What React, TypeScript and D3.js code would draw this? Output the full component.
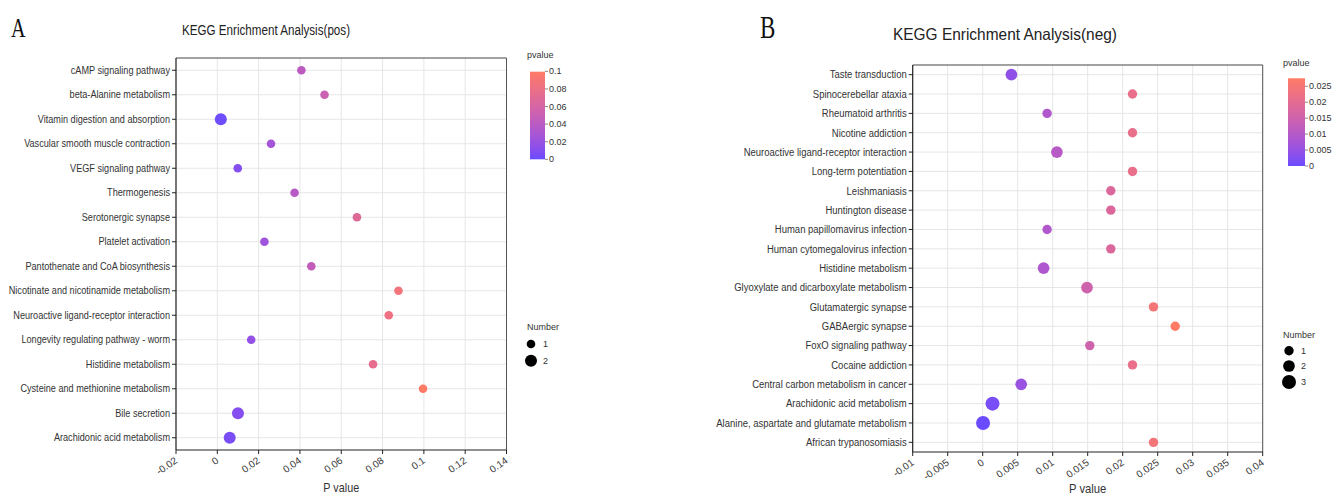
import React from 'react';
import * as d3 from 'd3';

// ---- data: positive ion mode ----
const posPathways = [
  'cAMP signaling pathway',
  'beta-Alanine metabolism',
  'Vitamin digestion and absorption',
  'Vascular smooth muscle contraction',
  'VEGF signaling pathway',
  'Thermogenesis',
  'Serotonergic synapse',
  'Platelet activation',
  'Pantothenate and CoA biosynthesis',
  'Nicotinate and nicotinamide metabolism',
  'Neuroactive ligand-receptor interaction',
  'Longevity regulating pathway - worm',
  'Histidine metabolism',
  'Cysteine and methionine metabolism',
  'Bile secretion',
  'Arachidonic acid metabolism',
];
const posPvalues = [0.0407, 0.0519, 0.0017, 0.026, 0.0099, 0.0374, 0.0676, 0.0228, 0.0455, 0.0877, 0.083, 0.0164, 0.0754, 0.0996, 0.01, 0.006];
const posNumbers = [1, 1, 2, 1, 1, 1, 1, 1, 1, 1, 1, 1, 1, 1, 2, 2];
const posXTicks = [-0.02, 0, 0.02, 0.04, 0.06, 0.08, 0.1, 0.12, 0.14];
const posLegendTicks = [0, 0.02, 0.04, 0.06, 0.08, 0.1];
const posSizeLevels = [1, 2];

// ---- data: negative ion mode ----
const negPathways = [
  'Taste transduction',
  'Spinocerebellar ataxia',
  'Rheumatoid arthritis',
  'Nicotine addiction',
  'Neuroactive ligand-receptor interaction',
  'Long-term potentiation',
  'Leishmaniasis',
  'Huntington disease',
  'Human papillomavirus infection',
  'Human cytomegalovirus infection',
  'Histidine metabolism',
  'Glyoxylate and dicarboxylate metabolism',
  'Glutamatergic synapse',
  'GABAergic synapse',
  'FoxO signaling pathway',
  'Cocaine addiction',
  'Central carbon metabolism in cancer',
  'Arachidonic acid metabolism',
  'Alanine, aspartate and glutamate metabolism',
  'African trypanosomiasis',
];
const negPvalues = [0.0041, 0.0214, 0.0092, 0.0214, 0.0106, 0.0214, 0.0183, 0.0183, 0.0092, 0.0183, 0.0087, 0.0149, 0.0244, 0.0275, 0.0153, 0.0214, 0.0055, 0.0014, 0.00005, 0.0244];
const negNumbers = [2, 1, 1, 1, 2, 1, 1, 1, 1, 1, 2, 2, 1, 1, 1, 1, 2, 3, 3, 1];
const negXTicks = [-0.01, -0.005, 0, 0.005, 0.01, 0.015, 0.02, 0.025, 0.03, 0.035, 0.04];
const negLegendTicks = [0, 0.005, 0.01, 0.015, 0.02, 0.025];
const negSizeLevels = [1, 2, 3];

const LOW = '#6A4BFF';
const HIGH = '#FF7B66';
const FONT = '"Liberation Sans", Arial, sans-serif';
const TXT = '#333';

const fmt = (v: number) => `${+v.toFixed(4)}`;

type Layout = {
  id: string;
  letter: string; letterX: number; letterY: number; letterSize: number;
  title: string; titleX: number; titleY: number; titleSize: number; titleLen: number;
  left: number; right: number; top: number; bottom: number; labelSize: number; labelScale: number;
  xLabelY: number; xLabelSize: number;
  legX: number; legTitleY: number; barX: number; barW: number; barTop: number; barBottom: number;
  numTitleY: number; numY: number[]; rRange: [number, number];
};

function BubblePanel({ pathways, pvalues, numbers, xTicks, legendTicks, sizeLevels, L }: {
  pathways: string[]; pvalues: number[]; numbers: number[]; xTicks: number[];
  legendTicks: number[]; sizeLevels: number[]; L: Layout;
}) {
  const x = d3.scaleLinear().domain([xTicks[0], xTicks[xTicks.length - 1]]).range([L.left, L.right]);
  const y = d3.scaleBand<string>().domain(pathways).range([L.top, L.bottom]);
  const cy = (p: string) => (y(p) as number) + y.bandwidth() / 2;
  const pMax = d3.max(pvalues) as number;
  const color = d3.scaleLinear<string>().domain([0, pMax]).range([LOW, HIGH]).interpolate(d3.interpolateLab);
  const r = d3.scaleLinear().domain([1, sizeLevels[sizeLevels.length - 1]]).range(L.rRange);
  const bar = d3.scaleLinear().domain([0, pMax]).range([L.barBottom, L.barTop]);
  const stops = d3.range(0, 1.0001, 0.1);
  const cx = (L.left + L.right) / 2;

  return (
    <g fontFamily={FONT}>
      <defs>
        <linearGradient id={`grad-${L.id}`} x1="0" y1="1" x2="0" y2="0">
          {stops.map(s => <stop key={s} offset={s} stopColor={color(s * pMax)} />)}
        </linearGradient>
      </defs>

      <text fontFamily='"Liberation Serif", "Times New Roman", serif' fontSize={L.letterSize} fill="#111"
        transform={`translate(${L.letterX},${L.letterY}) scale(0.72,1)`}>
        {L.letter}
      </text>
      <text x={L.titleX} y={L.titleY} fontSize={L.titleSize} fill="#222"
        textLength={L.titleLen} lengthAdjust="spacingAndGlyphs">{L.title}</text>

      {/* grid */}
      {xTicks.map(t => (
        <line key={`gx${t}`} x1={x(t)} x2={x(t)} y1={L.top} y2={L.bottom} stroke="#e6e6e6" strokeWidth={1} />
      ))}
      {pathways.map(p => (
        <line key={`gy${p}`} x1={L.left} x2={L.right} y1={cy(p)} y2={cy(p)} stroke="#e6e6e6" strokeWidth={1} />
      ))}

      {/* frame */}
      <line x1={L.left} x2={L.right} y1={L.top} y2={L.top} stroke="#444" strokeWidth={1} />
      <line x1={L.right} x2={L.right} y1={L.top} y2={L.bottom} stroke="#555" strokeWidth={1} />
      <line x1={L.left} x2={L.left} y1={L.top} y2={L.bottom} stroke="#222" strokeWidth={1.2} />
      <line x1={L.left} x2={L.right} y1={L.bottom} y2={L.bottom} stroke="#222" strokeWidth={1.2} />

      {/* y axis */}
      {pathways.map(p => (
        <g key={`yl${p}`}>
          <line x1={L.left - 4} x2={L.left} y1={cy(p)} y2={cy(p)} stroke="#222" />
          <text transform={`translate(${L.left - 6},${cy(p)}) scale(${L.labelScale},1)`} dy="0.35em"
            textAnchor="end" fontSize={L.labelSize} fill={TXT}>{p}</text>
        </g>
      ))}

      {/* x axis */}
      {xTicks.map(t => (
        <g key={`xl${t}`}>
          <line x1={x(t)} x2={x(t)} y1={L.bottom} y2={L.bottom + 4} stroke="#222" />
          <text transform={`translate(${x(t) + 2},${L.bottom + 12}) rotate(-35)`} textAnchor="end"
            fontSize={10} fill={TXT}>{fmt(t)}</text>
        </g>
      ))}
      <text textAnchor="middle" fontSize={L.xLabelSize} fill={TXT}
        transform={`translate(${cx},${L.xLabelY}) scale(0.9,1)`}>P value</text>

      {/* bubbles */}
      {pathways.map((p, i) => (
        <circle key={`c${p}`} cx={x(pvalues[i])} cy={cy(p)} r={r(numbers[i])} fill={color(pvalues[i])} />
      ))}

      {/* colour legend */}
      <text x={L.legX} y={L.legTitleY} fontSize={9} fill={TXT}>pvalue</text>
      <rect x={L.barX} y={L.barTop} width={L.barW} height={L.barBottom - L.barTop} fill={`url(#grad-${L.id})`} />
      {legendTicks.map(t => (
        <g key={`lt${t}`}>
          <line x1={L.barX + L.barW} x2={L.barX + L.barW + 3} y1={bar(t)} y2={bar(t)} stroke="#888" />
          <text x={L.barX + L.barW + 4} y={bar(t)} dy="0.35em" fontSize={9} fill={TXT}>{fmt(t)}</text>
        </g>
      ))}

      {/* size legend */}
      <text x={L.legX} y={L.numTitleY} fontSize={9} fill={TXT}>Number</text>
      {sizeLevels.map((n, i) => (
        <g key={`sl${n}`}>
          <circle cx={L.barX + 1} cy={L.numY[i]} r={r(n)} fill="#000" />
          <text x={L.barX + 13} y={L.numY[i]} dy="0.35em" fontSize={9} fill={TXT}>{n}</text>
        </g>
      ))}
    </g>
  );
}

const posLayout: Layout = {
  id: 'pos', letter: 'A', letterX: 11, letterY: 37, letterSize: 28,
  title: 'KEGG Enrichment Analysis(pos)', titleX: 182, titleY: 34.5, titleSize: 14, titleLen: 168,
  left: 176, right: 506.5, top: 58, bottom: 450, labelSize: 10.5, labelScale: 0.87,
  xLabelY: 492, xLabelSize: 12,
  legX: 527, legTitleY: 58, barX: 530, barW: 15, barTop: 71.7, barBottom: 159.3,
  numTitleY: 330, numY: [344, 360.7], rRange: [4.3, 6],
};

const negLayout: Layout = {
  id: 'neg', letter: 'B', letterX: 760, letterY: 38, letterSize: 32,
  title: 'KEGG Enrichment Analysis(neg)', titleX: 893, titleY: 39.5, titleSize: 16.5, titleLen: 224,
  left: 912.7, right: 1262.7, top: 65, bottom: 452, labelSize: 10.8, labelScale: 0.88,
  xLabelY: 493, xLabelSize: 12.5,
  legX: 1283, legTitleY: 66, barX: 1288, barW: 17, barTop: 78.3, barBottom: 166,
  numTitleY: 338, numY: [350.7, 366, 382], rRange: [4.7, 7],
};

export default function App() {
  return (
    <svg width={1333} height={497} style={{ position: 'absolute', left: 0, top: 0, background: '#fff' }}>
      <rect width={1333} height={497} fill="#fff" />
      <BubblePanel pathways={posPathways} pvalues={posPvalues} numbers={posNumbers} xTicks={posXTicks}
        legendTicks={posLegendTicks} sizeLevels={posSizeLevels} L={posLayout} />
      <BubblePanel pathways={negPathways} pvalues={negPvalues} numbers={negNumbers} xTicks={negXTicks}
        legendTicks={negLegendTicks} sizeLevels={negSizeLevels} L={negLayout} />
    </svg>
  );
}
